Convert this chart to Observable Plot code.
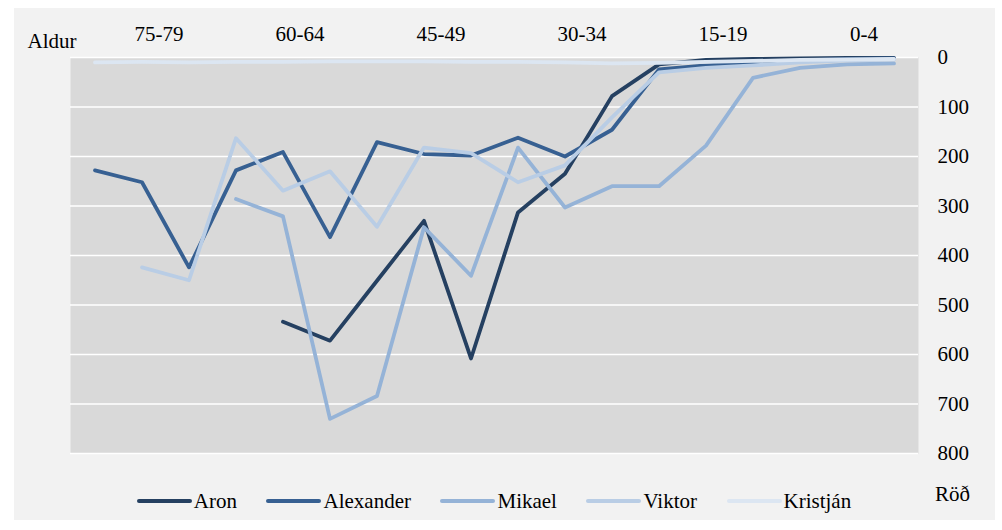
<!DOCTYPE html>
<html>
<head>
<meta charset="utf-8">
<script src="https://cdn.jsdelivr.net/npm/d3@7"></script>
<script src="https://cdn.jsdelivr.net/npm/@observablehq/plot@0.6"></script>
<style>
  html, body { margin: 0; padding: 0; background: #ffffff; }
  #chart {
    position: absolute; left: 14px; top: 8px; width: 981px; height: 512px;
    background: #f2f2f2; font-family: "Liberation Serif", "Times New Roman", serif; color: #000;
  }
  #legend {
    position: relative; height: 42px; box-sizing: border-box;
    display: flex; justify-content: center; align-items: center;
    padding: 4px 77px 0 56px; gap: 29.5px; font-size: 21px;
  }
  .item { display: flex; align-items: center; }
  .sw { width: 55px; height: 4px; border-radius: 2px; margin-right: 2px; }
  #rod { position: absolute; left: 921px; top: 4px; font-size: 21px; }
</style>
</head>
<body>
<div id="chart"></div>
<script>
const ageGroups = ["85+","80-84","75-79","70-74","65-69","60-64","55-59","50-54","45-49","40-44","35-39","30-34","25-29","20-24","15-19","10-14","5-9","0-4"];
const tickLabels = ["75-79","60-64","45-49","30-34","15-19","0-4"];
const rankTicks = [0,100,200,300,400,500,600,700,800];
const names = ["Aron","Alexander","Mikael","Viktor","Kristján"];
const colors = ["#254061","#376092","#95b3d7","#b9cde5","#dce6f2"];

const aron      = [null,null,null,null,534,572,451,330,608,313,235,78,14,5,3,2,1,1];
const alexander = [228,252,424,228,191,363,171,195,198,162,200,146,24,16,10,6,3,2];
const mikael    = [null,null,null,286,321,730,684,343,441,182,303,260,260,178,41,21,14,12];
const viktor    = [null,424,450,163,269,230,342,182,193,252,218,121,30,21,16,10,6,4];
const kristjan  = [10,9,10,9,9,8,8,8,9,9,10,12,11,9,7,5,4,3];

const seriesValues = [aron, alexander, mikael, viktor, kristjan];
const data = names.flatMap((n, s) => ageGroups.map((a, i) => ({age: a, rank: seriesValues[s][i], name: n})));

const chart = Plot.plot({
  width: 981,
  height: 470,
  marginTop: 49,
  marginBottom: 25,
  marginLeft: 56,
  marginRight: 77,
  style: {background: "transparent", fontFamily: "'Liberation Serif', 'Times New Roman', serif", fontSize: "21px", color: "#000", overflow: "visible"},
  x: {type: "band", domain: ageGroups, padding: 0},
  y: {domain: [0, 800], reverse: true},
  color: {domain: names, range: colors},
  marks: [
    Plot.frame({fill: "#d9d9d9", stroke: "none"}),
    Plot.gridY(rankTicks, {stroke: "#ffffff", strokeOpacity: 1, strokeWidth: 1.6}),
    Plot.axisX({anchor: "top", ticks: tickLabels, tickSize: 0, tickPadding: 17, dx: -30, label: null, fontSize: 21}),
    Plot.axisY({anchor: "right", ticks: rankTicks, tickSize: 0, tickPadding: 19, label: null, fontSize: 21, textAnchor: "start"}),
    Plot.line(data, {x: "age", y: "rank", z: "name", stroke: "name", strokeWidth: 3.8, strokeLinejoin: "round", strokeLinecap: "round"}),
    Plot.text(["Aldur"], {frameAnchor: "top-left", dx: -43, dy: -24, textAnchor: "start", fontSize: 21})
  ]
});

const root = document.getElementById("chart");
root.appendChild(chart);

const legend = document.createElement("div");
legend.id = "legend";
names.forEach((n, i) => {
  const item = document.createElement("span");
  item.className = "item";
  const sw = document.createElement("span");
  sw.className = "sw";
  sw.style.background = colors[i];
  item.appendChild(sw);
  item.appendChild(document.createTextNode(n));
  legend.appendChild(item);
});
const rod = document.createElement("span");
rod.id = "rod";
rod.textContent = "Röð";
legend.appendChild(rod);
root.appendChild(legend);
</script>
</body>
</html>
